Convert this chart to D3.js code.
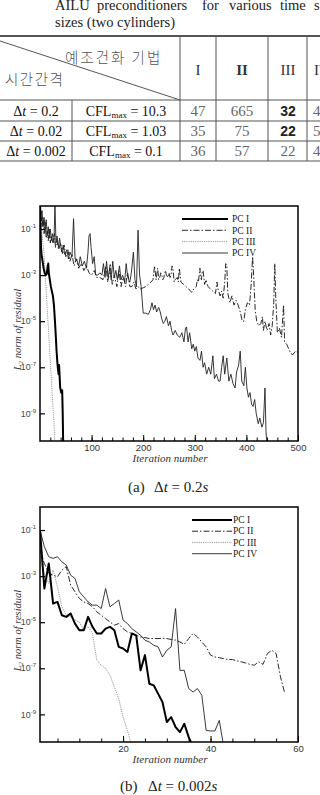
<!DOCTYPE html>
<html>
<head>
<meta charset="utf-8">
<script src="https://cdn.jsdelivr.net/npm/d3@7"></script>
<style>
  body { margin: 0; background: #fff; }
  svg { display: block; }
</style>
</head>
<body>
<div id="chart"></div>
<script>
// ---- data ----
const captionWords = ["AILU", "preconditioners", "for", "various", "time", "s"];
const captionLine2 = "sizes (two cylinders)";

const headerMethod = "예조건화 기법";
const headerTime = "시간간격";
const pcHeaders = ["I", "II", "III", "IV"];
const timeSteps = ["0.2", "0.02", "0.002"];
const cflMax = ["10.3", "1.03", "0.1"];
const itersPC1 = ["47", "35", "36"];
const itersPC2 = ["665", "75", "57"];
const itersPC3 = ["32", "22", "22"];
const itersPC4 = ["4", "5", "4"];   // cut off at the right edge

const legendNames = ["PC I", "PC II", "PC III", "PC IV"];
const yTickExps = [-1, -3, -5, -7, -9];
const yMinExp = -10.2;

// (a) dt = 0.2 : [iteration, log10 residual]
const a_pc1 = [[0,0.2],[1,-1.0],[2,-1.8],[3,-2.1],[5,-2.4],[7,-2.7],[9,-2.9],[11,-3.0],[13,-2.95],[15,-2.6],[16,-2.5],[17,-2.9],[19,-3.2],[21,-3.5],[23,-3.7],[25,-3.9],[27,-4.3],[29,-5.0],[31,-5.8],[32,-6.26],[34,-6.9],[36,-7.3],[37,-6.9],[39,-7.86],[41,-8.1],[43,-8.0],[44,-9.0],[45,-10.4]];
const a_pc2 = [[0,0.1],[2,-0.3],[4,-0.9],[6,-0.5],[8,-1.2],[10,-0.7],[12,-1.4],[14,-1.1],[16,-1.5],[18,-1.0],[20,-1.6],[22,-1.3],[25,-1.6],[28,-1.2],[30,-1.8],[33,-1.5],[36,-1.9],[40,-1.6],[44,-2.1],[47,-1.7],[50,-2.2],[54,-1.9],[58,-2.4],[62,-2.1],[66,-2.6],[70,-2.3],[75,-2.7],[80,-2.5],[85,-2.8],[90,-2.6],[95,-2.9],[100,-3.0],[105,-2.8],[110,-3.1],[116,-3.1],[122,-3.2],[125,-2.9],[128,-2.6],[131,-3.3],[134,-3.0],[136,-2.5],[140,-3.4],[144,-3.0],[149,-3.5],[153,-2.8],[157,-3.5],[160,-3.2],[162,-3.1],[166,-3.5],[168,-3.1],[170,-2.9],[174,-3.5],[178,-3.5],[182,-3.3],[186,-3.6],[190,-3.5],[194,-3.6],[200,-3.55],[205,-3.5],[210,-3.4],[215,-3.3],[219,-3.2],[222,-2.6],[225,-3.2],[228,-2.7],[230,-3.2],[232,-3.1],[234,-2.9],[236,-3.0],[238,-3.2],[240,-3.1],[243,-2.8],[245,-3.0],[248,-3.1],[250,-2.9],[252,-3.1],[254,-3.0],[256,-2.6],[258,-2.8],[260,-3.3],[262,-3.2],[266,-3.1],[268,-3.3],[270,-2.7],[273,-3.3],[278,-3.4],[283,-3.5],[288,-3.6],[294,-3.75],[298,-3.6],[303,-3.5],[305,-3.2],[307,-3.3],[309,-2.9],[310,-2.7],[311,-3.1],[313,-3.2],[314,-2.9],[316,-2.8],[319,-3.4],[322,-3.2],[324,-3.4],[326,-3.5],[330,-3.6],[335,-3.7],[340,-3.8],[343,-3.3],[345,-3.6],[349,-3.9],[352,-3.7],[355,-4.0],[358,-3.3],[360,-2.5],[362,-2.6],[364,-3.8],[368,-4.2],[372,-3.9],[376,-4.3],[380,-4.1],[384,-4.3],[388,-4.6],[392,-5.0],[395,-5.0],[398,-4.5],[402,-4.2],[406,-4.3],[409,-3.5],[412,-2.2],[414,-3.0],[417,-4.5],[420,-5.0],[424,-5.2],[428,-5.1],[431,-4.8],[433,-5.4],[436,-5.0],[440,-5.4],[444,-5.1],[447,-5.6],[450,-5.2],[453,-4.2],[455,-2.5],[457,-4.0],[460,-5.5],[464,-5.3],[468,-5.7],[472,-4.3],[474,-5.9],[478,-6.0],[482,-6.2],[486,-6.4],[490,-6.45],[495,-6.3],[500,-6.35]];
const a_pc3 = [[0,0.2],[2,-0.6],[4,-1.2],[6,-1.7],[8,-2.1],[10,-2.9],[12,-3.7],[14,-4.5],[16,-5.2],[18,-6.0],[20,-6.8],[22,-7.5],[24,-8.3],[26,-9.0],[28,-9.8],[29,-10.4]];
const a_pc4 = [[0,0.1],[2,-0.4],[4,-0.2],[6,-0.9],[8,-0.5],[10,-1.1],[12,-0.6],[14,-1.3],[16,-0.9],[18,-1.4],[20,-1.0],[22,-1.5],[24,-1.2],[27,-1.6],[29,0.1],[31,-1.6],[33,-1.3],[36,-1.8],[38,-1.4],[42,-2.0],[45,-1.7],[48,-2.1],[52,-1.9],[55,-2.3],[58,-2.0],[62,-2.2],[65,-0.55],[68,-2.3],[71,-2.3],[75,-2.6],[78,-2.2],[82,-2.6],[86,-2.4],[90,-2.7],[93,-2.0],[95,-1.3],[97,-1.2],[99,-1.8],[102,-2.5],[105,-2.2],[108,-3.0],[112,-3.0],[116,-2.9],[120,-3.0],[123,-2.5],[126,-3.1],[129,-2.4],[132,-3.1],[135,-2.7],[138,-3.2],[141,-2.4],[144,-3.1],[147,-2.8],[150,-3.2],[154,-2.6],[157,-3.2],[160,-3.0],[164,-3.3],[167,-2.5],[170,-3.1],[174,-3.3],[177,-2.9],[181,-2.0],[184,-3.2],[187,-3.5],[190,-1.05],[193,-3.0],[196,-3.5],[200,-4.65],[205,-4.65],[210,-4.7],[214,-4.5],[217,-4.2],[220,-4.5],[223,-4.3],[226,-4.6],[230,-4.4],[233,-4.6],[236,-4.9],[239,-5.1],[242,-5.0],[245,-4.8],[249,-5.2],[252,-5.0],[255,-5.4],[258,-5.6],[262,-5.4],[266,-5.6],[271,-5.7],[275,-5.5],[279,-5.9],[282,-5.3],[284,-5.25],[287,-5.9],[290,-5.5],[294,-6.2],[297,-6.0],[300,-6.3],[303,-6.1],[306,-6.6],[310,-6.7],[313,-6.3],[316,-7.0],[319,-6.8],[323,-7.3],[327,-7.0],[331,-7.3],[335,-6.5],[338,-7.5],[342,-7.3],[346,-7.6],[349,-7.6],[352,-7.0],[355,-6.5],[358,-7.3],[362,-6.6],[366,-7.6],[370,-7.3],[374,-7.7],[378,-7.9],[381,-7.2],[385,-6.9],[388,-6.3],[391,-7.6],[395,-7.8],[398,-7.0],[401,-7.9],[404,-8.3],[407,-8.1],[410,-8.6],[413,-8.7],[416,-8.4],[419,-9.0],[423,-9.45],[426,-9.2],[430,-9.6],[433,-9.4],[436,-7.9],[438,-9.8],[440,-10.4]];

// (b) dt = 0.002
const b_pc1 = [[1,-1.0],[2,-3.54],[3,-2.45],[4,-4.19],[5,-4.12],[6,-4.70],[7,-4.77],[8,-4.62],[9,-5.06],[10,-5.35],[11,-5.35],[12,-4.77],[13,-5.20],[14,-5.49],[15,-5.49],[16,-5.28],[17,-5.20],[18,-5.35],[19,-6.07],[20,-6.14],[21,-6.29],[22,-5.49],[23,-5.57],[24,-7.09],[25,-6.43],[26,-7.67],[27,-7.74],[28,-8.10],[29,-8.46],[30,-9.33],[31,-9.12],[32,-9.55],[33,-9.77],[34,-9.41],[35,-9.99],[36,-10.4]];
const b_pc2 = [[1,-1.87],[2,-2.45],[3,-2.88],[4,-2.96],[5,-3.03],[6,-2.74],[7,-2.59],[8,-3.39],[9,-3.68],[10,-3.97],[11,-4.12],[12,-4.19],[13,-4.33],[14,-4.55],[15,-4.70],[16,-4.84],[17,-4.99],[18,-5.13],[19,-5.06],[20,-5.28],[21,-5.42],[22,-5.49],[23,-5.57],[24,-5.64],[25,-5.67],[26,-5.71],[27,-5.71],[28,-5.71],[29,-5.70],[30,-5.71],[31,-5.75],[32,-5.78],[33,-5.86],[34,-5.96],[35,-5.71],[36,-5.49],[37,-5.64],[38,-5.86],[39,-6.07],[40,-6.43],[41,-6.51],[42,-6.54],[43,-6.58],[44,-6.62],[45,-6.62],[46,-6.68],[47,-6.72],[48,-6.77],[49,-6.83],[50,-6.87],[51,-6.72],[52,-6.83],[53,-6.36],[54,-6.22],[55,-6.36],[56,-7.38],[57,-8.10]];
const b_pc3 = [[1,-2.30],[2,-2.88],[3,-3.32],[4,-2.74],[5,-3.46],[6,-4.33],[7,-4.70],[8,-4.77],[9,-4.91],[10,-4.99],[11,-5.35],[12,-5.20],[13,-5.49],[14,-6.65],[15,-6.87],[16,-7.01],[17,-7.30],[18,-7.81],[19,-8.32],[20,-9.12],[21,-9.70],[22,-10.4]];
const b_pc4 = [[1,-1.0],[2,-1.72],[3,-2.16],[4,-2.23],[5,-2.16],[6,-2.38],[7,-2.52],[8,-2.96],[9,-3.10],[10,-3.68],[11,-3.90],[12,-4.12],[13,-4.26],[14,-4.26],[15,-4.41],[16,-3.54],[17,-4.33],[18,-4.19],[19,-4.04],[20,-4.91],[21,-5.06],[22,-5.28],[23,-5.42],[24,-5.57],[25,-5.78],[26,-5.86],[27,-6.0],[28,-6.07],[29,-6.51],[30,-6.22],[31,-6.07],[32,-4.41],[33,-7.09],[34,-7.09],[35,-7.88],[36,-8.03],[37,-7.88],[38,-8.17],[39,-9.70],[40,-9.72],[41,-9.72],[42,-9.26],[43,-10.4]];

// ---- drawing ----
const W = 320, H = 795;
const serif = "'Liberation Serif','Times New Roman',serif";
const sans = "'Liberation Sans',Arial,sans-serif";
const kr = "'Noto Sans CJK KR','Noto Sans CJK SC',sans-serif";

const svg = d3.select("#chart").append("svg")
  .attr("width", W).attr("height", H)
  .attr("viewBox", `0 0 ${W} ${H}`);

// table caption (justified first line)
const wordX = [55, 97, 202, 229, 280, 314];
svg.append("g").selectAll("text").data(captionWords).join("text")
  .attr("x", (d, i) => wordX[i]).attr("y", 10)
  .style("font-family", serif).style("font-size", "14.5px").attr("fill", "#222")
  .text(d => d);
svg.append("text").attr("x", 55).attr("y", 27)
  .style("font-family", serif).style("font-size", "14.5px").attr("fill", "#222")
  .text(captionLine2);

// table grid
const tbl = svg.append("g").attr("stroke", "#555").attr("fill", "none");
const rowLines = [36, 100, 121, 141, 161];
rowLines.forEach((yy, i) => {
  tbl.append("line").attr("x1", 0).attr("x2", W).attr("y1", yy).attr("y2", yy)
    .attr("stroke-width", i === 0 ? 1.8 : 1);
});
[180, 216, 268, 307].forEach(xx => {
  tbl.append("line").attr("x1", xx).attr("x2", xx).attr("y1", 36).attr("y2", 161);
});
tbl.append("line").attr("x1", 72).attr("x2", 72).attr("y1", 100).attr("y2", 161);
tbl.append("line").attr("x1", 0).attr("y1", 41).attr("x2", 180).attr("y2", 100);

svg.append("text").attr("x", 65).attr("y", 63)
  .style("font-family", kr).style("font-size", "14.5px").style("font-weight", 300)
  .attr("fill", "#555").attr("letter-spacing", "2px").text(headerMethod);
svg.append("text").attr("x", 5).attr("y", 85)
  .style("font-family", kr).style("font-size", "14.5px").style("font-weight", 300)
  .attr("fill", "#555").attr("letter-spacing", "1.5px").text(headerTime);

const colCenters = [198, 242, 288, 322];
svg.append("g").selectAll("text").data(pcHeaders).join("text")
  .attr("x", (d, i) => colCenters[i]).attr("y", 75)
  .attr("text-anchor", "middle")
  .style("font-family", serif).style("font-size", "15px")
  .style("font-weight", (d, i) => i === 1 ? "bold" : "normal")
  .attr("fill", "#333").text(d => d);

const rowBase = [116, 136, 156];
timeSteps.forEach((ts, r) => {
  const t = svg.append("text").attr("x", 36).attr("y", rowBase[r]).attr("text-anchor", "middle")
    .style("font-family", serif).style("font-size", "14px").attr("fill", "#111");
  t.append("tspan").text("Δ");
  t.append("tspan").style("font-style", "italic").text("t");
  t.append("tspan").text(" = " + ts);

  const c = svg.append("text").attr("x", 126).attr("y", rowBase[r]).attr("text-anchor", "middle")
    .style("font-family", serif).style("font-size", "14px").attr("fill", "#111");
  c.append("tspan").text("CFL");
  c.append("tspan").style("font-size", "9px").attr("dy", 2).text("max");
  c.append("tspan").attr("dy", -2).text(" = " + cflMax[r]);

  const vals = [itersPC1[r], itersPC2[r], itersPC3[r]];
  vals.forEach((v, k) => {
    const strong = k === 2 && r < 2;
    svg.append("text").attr("x", colCenters[k]).attr("y", rowBase[r]).attr("text-anchor", "middle")
      .style("font-family", strong ? sans : serif)
      .style("font-size", strong ? "14px" : "15px")
      .style("font-weight", strong ? "bold" : "normal")
      .attr("fill", strong ? "#222" : "#666").text(v);
  });
  svg.append("text").attr("x", 313).attr("y", rowBase[r])
    .style("font-family", serif).style("font-size", "15px").attr("fill", "#666").text(itersPC4[r]);
});

// line styles per preconditioner
const styles = [
  { color: "#000", width: 2, dash: null },
  { color: "#111", width: 0.9, dash: "6,2,1.5,2" },
  { color: "#9a9a9a", width: 1, dash: "1.2,1" },
  { color: "#222", width: 0.9, dash: null }
];

function drawChart(cfg) {
  const left = 40, right = 298;
  const x = d3.scaleLinear().domain(cfg.xDomain).range([left, right]);
  const y = d3.scaleLog().domain([Math.pow(10, yMinExp), 1]).range([cfg.bottom, cfg.top]);
  const g = svg.append("g");

  const clipId = "clip-" + cfg.id;
  g.append("clipPath").attr("id", clipId).append("rect")
    .attr("x", left).attr("y", cfg.top).attr("width", right - left).attr("height", cfg.bottom - cfg.top);

  const line = d3.line().x(d => x(d[0])).y(d => y(Math.pow(10, d[1])));

  // PC III first so the dark lines sit above it
  [2, 1, 3, 0].forEach(i => {
    g.append("path").attr("clip-path", `url(#${clipId})`)
      .attr("d", line(cfg.series[i]))
      .attr("fill", "none").attr("stroke", styles[i].color)
      .attr("stroke-width", styles[i].width)
      .attr("stroke-dasharray", styles[i].dash)
      .attr("stroke-linejoin", "round");
  });

  // x ticks (inward)
  const xMinorAxis = g.append("g").attr("transform", `translate(0,${cfg.bottom})`)
    .call(d3.axisBottom(x).tickValues(cfg.xMinor).tickSize(-3.5).tickSizeOuter(0).tickFormat(""));
  const xMajorAxis = g.append("g").attr("transform", `translate(0,${cfg.bottom})`)
    .call(d3.axisBottom(x).tickValues(cfg.xMajor).tickSize(-6).tickSizeOuter(0).tickPadding(3));
  [xMinorAxis, xMajorAxis].forEach(a => {
    a.select(".domain").remove();
    a.selectAll("line").attr("stroke", "#000").attr("stroke-width", 1);
  });
  xMajorAxis.selectAll("text").style("font-family", sans).style("font-size", "9.5px").attr("fill", "#333");

  // y ticks
  const yAxis = g.append("g").attr("transform", `translate(${left},0)`)
    .call(d3.axisLeft(y).tickValues(yTickExps.map(e => Math.pow(10, e))).tickSize(-5).tickSizeOuter(0).tickFormat(""));
  yAxis.select(".domain").remove();
  yAxis.selectAll("line").attr("stroke", "#000").attr("stroke-width", 1.2);

  const yl = g.selectAll("text.ylab").data(yTickExps).join("text")
    .attr("class", "ylab")
    .attr("x", 36).attr("y", d => y(Math.pow(10, d)) + 3.2)
    .attr("text-anchor", "end")
    .style("font-family", sans).style("font-size", "8.8px").attr("fill", "#444");
  yl.append("tspan").text("10");
  yl.append("tspan").attr("dy", -4).style("font-size", "6px").text(d => d);

  // frame
  g.append("rect").attr("x", left).attr("y", cfg.top)
    .attr("width", right - left).attr("height", cfg.bottom - cfg.top)
    .attr("fill", "none").attr("stroke", "#000").attr("stroke-width", 1.5);

  // axis titles
  const mid = (cfg.top + cfg.bottom) / 2 + 6;
  const yt = g.append("text")
    .attr("transform", `translate(20.5,${mid}) rotate(-90)`)
    .attr("text-anchor", "middle")
    .style("font-family", serif).style("font-size", "10.5px").style("font-style", "italic")
    .attr("fill", "#333");
  yt.append("tspan").text("L");
  yt.append("tspan").attr("dy", 2).style("font-size", "7px").text("2");
  yt.append("tspan").attr("dy", -2).text(" norm of residual");

  g.append("text").attr("x", 170).attr("y", cfg.bottom + 20.5)
    .attr("text-anchor", "middle")
    .style("font-family", serif).style("font-size", "11px").style("font-style", "italic")
    .attr("fill", "#333").text("Iteration number");

  // legend
  const lg = g.append("g");
  legendNames.forEach((name, i) => {
    const ly = cfg.legendY[i];
    lg.append("line").attr("x1", cfg.legendX[0]).attr("x2", cfg.legendX[1])
      .attr("y1", ly).attr("y2", ly)
      .attr("stroke", styles[i].color).attr("stroke-width", styles[i].width)
      .attr("stroke-dasharray", styles[i].dash);
    lg.append("text").attr("x", cfg.legendLabelX).attr("y", ly + 3.2)
      .style("font-family", serif).style("font-size", "9.5px").attr("fill", "#222")
      .text(name);
  });

  // caption
  const cap = g.append("text").attr("y", cfg.captionY)
    .style("font-family", serif).style("font-size", "15px").attr("fill", "#222");
  cap.append("tspan").attr("x", cfg.captionX[0]).text(cfg.captionTag);
  cap.append("tspan").attr("x", cfg.captionX[1]).text("Δ");
  cap.append("tspan").style("font-style", "italic").text("t");
  cap.append("tspan").text(" = " + cfg.captionValue);
  cap.append("tspan").style("font-style", "italic").text("s");
}

drawChart({
  id: "a", top: 206, bottom: 441, xDomain: [0, 500],
  xMinor: d3.range(20, 500, 20), xMajor: [100, 200, 300, 400, 500],
  series: [a_pc1, a_pc2, a_pc3, a_pc4],
  legendX: [182, 228], legendLabelX: 232, legendY: [219, 230.3, 241.6, 253],
  captionTag: "(a)", captionValue: "0.2", captionX: [128, 154], captionY: 492
});

drawChart({
  id: "b", top: 507, bottom: 742, xDomain: [1, 60],
  xMinor: d3.range(5, 60, 5), xMajor: [20, 40, 60],
  series: [b_pc1, b_pc2, b_pc3, b_pc4],
  legendX: [192, 232], legendLabelX: 233, legendY: [520, 531.2, 542.4, 553.7],
  captionTag: "(b)", captionValue: "0.002", captionX: [120, 148], captionY: 791
});
</script>
</body>
</html>
